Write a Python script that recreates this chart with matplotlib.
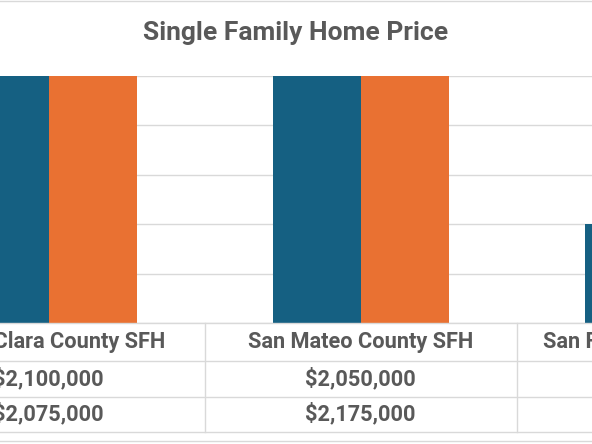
import matplotlib.pyplot as plt
from matplotlib.transforms import blended_transform_factory

# data
categories = ["Santa Clara County SFH", "San Mateo County SFH", "San Francisco County SFH"]
series_a = [2100000, 2050000, 800000]
series_b = [2075000, 2175000, 850000]
y_max = 2000000
y_step = 400000

W, H = 592, 444
blue = "#156082"
orange = "#E97132"
grid = "#D9D9D9"
text_col = "#595959"
font = "Roboto"

fig = plt.figure(figsize=(W / 100, H / 100), dpi=100)

# plot area: category 0 centred at px 48.5, 312 px per category
px_per_cat = 312
x0 = -48.5 / px_per_cat
x1 = (W - 48.5) / px_per_cat
top_px, bot_px = 76, 323
ax = fig.add_axes([0, 1 - bot_px / H, 1, (bot_px - top_px) / H])
ax.set_xlim(x0, x1)
ax.set_ylim(0, y_max)

bw = 88 / px_per_cat
xs = range(len(categories))
ax.bar([x - bw / 2 for x in xs], series_a, width=bw, color=blue, zorder=2)
ax.bar([x + bw / 2 for x in xs], series_b, width=bw, color=orange, zorder=2)

ax.set_yticks(range(0, y_max + 1, y_step))
ax.yaxis.grid(True, color=grid, linewidth=1)
ax.set_axisbelow(True)
ax.tick_params(left=False, bottom=False, labelleft=False, labelbottom=False)
for s in ["left", "right", "top"]:
    ax.spines[s].set_visible(False)
ax.spines["bottom"].set_color(grid)
ax.spines["bottom"].set_linewidth(1)

# title
fig.text(0.5, 1 - 33 / H, "Single Family Home Price", ha="center", va="center",
         fontsize=19, fontweight="bold", color=text_col, family=font)

# data table
tr = blended_transform_factory(ax.transData, fig.transFigure)
def fy(py):
    return 1 - py / H

for py in [361, 397, 432]:
    fig.add_artist(plt.Line2D([0, 1], [fy(py), fy(py)], color=grid, linewidth=1))
for py in [1.5, 441]:
    fig.add_artist(plt.Line2D([0, 1], [fy(py), fy(py)], color=grid, linewidth=1))
for i in range(len(categories) - 1):
    fig.add_artist(plt.Line2D([i + 0.5, i + 0.5], [fy(323), fy(432)], color=grid,
                              linewidth=1, transform=tr))

for i, cat in enumerate(categories):
    kw = dict(ha="center", va="center", fontsize=15.7, fontweight="bold",
              color=text_col, family=font, transform=tr)
    fig.text(i, fy(342), cat, **kw)
    fig.text(i, fy(379), f"${series_a[i]:,}", **kw)
    fig.text(i, fy(414), f"${series_b[i]:,}", **kw)

fig.savefig("out.png", dpi=100)
